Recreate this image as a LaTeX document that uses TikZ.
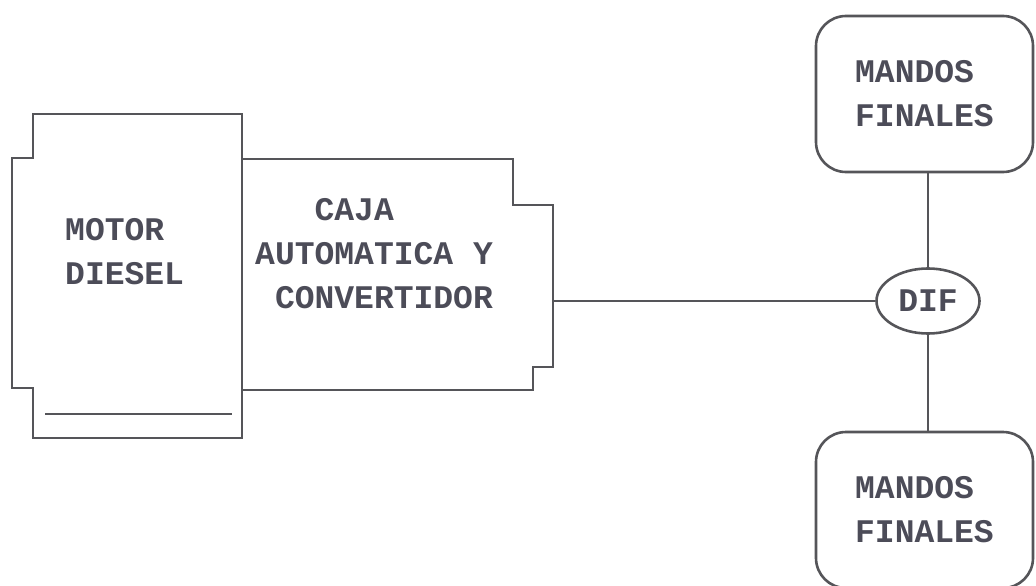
\documentclass[tikz,border=0pt]{standalone}
\usepackage{fontspec}
\setmonofont{Liberation Mono}
\usetikzlibrary{shapes.geometric}
\definecolor{ln}{HTML}{555559}
\definecolor{tx}{HTML}{4C4C58}
\tikzset{
  outline/.style={draw=ln, line width=2.6pt, line join=miter},
  lbl/.style={inner sep=0pt, text=tx, font=\ttfamily\bfseries\fontsize{33}{44}\selectfont, align=left},
  mandos/.style={outline, rounded corners=30pt, minimum width=217pt, minimum height=156pt, inner sep=0pt},
  difnode/.style={outline, ellipse, minimum width=103pt, minimum height=65pt, inner sep=0pt},
  conn/.style={draw=ln, line width=2pt}
}
\begin{document}
\begin{tikzpicture}[x=1pt,y=-1pt]
\useasboundingbox (0,0) rectangle (1036,586);
% motor diesel
\draw[outline] (33,114) -- (242,114) -- (242,438) -- (33,438) -- (33,388) -- (12,388) -- (12,158) -- (33,158) -- cycle;
\draw[conn] (45,414) -- (232,414);
\node[lbl, anchor=west] (motor) at (65,252) {MOTOR\\DIESEL};
% caja automatica
\draw[outline] (242,159) -- (513,159) -- (513,205) -- (553,205) -- (553,367) -- (533,367) -- (533,390) -- (242,390);
\coordinate (cajaout) at (553,301);
\node[lbl, anchor=west] (caja) at (255,254) {\phantom{AUT}CAJA\\AUTOMATICA Y\\\phantom{A}CONVERTIDOR};
% differential and final drives
\node[difnode, lbl] (dif) at (928,301) {DIF};
\node[mandos, lbl] (mf1) at (924.5,94) {MANDOS\\FINALES};
\node[mandos, lbl] (mf2) at (924.5,510) {MANDOS\\FINALES};
\draw[conn] (cajaout) -- (dif.west);
\draw[conn] (dif.north) -- (dif.north |- mf1.south);
\draw[conn] (dif.south) -- (dif.south |- mf2.north);
\end{tikzpicture}
\end{document}
